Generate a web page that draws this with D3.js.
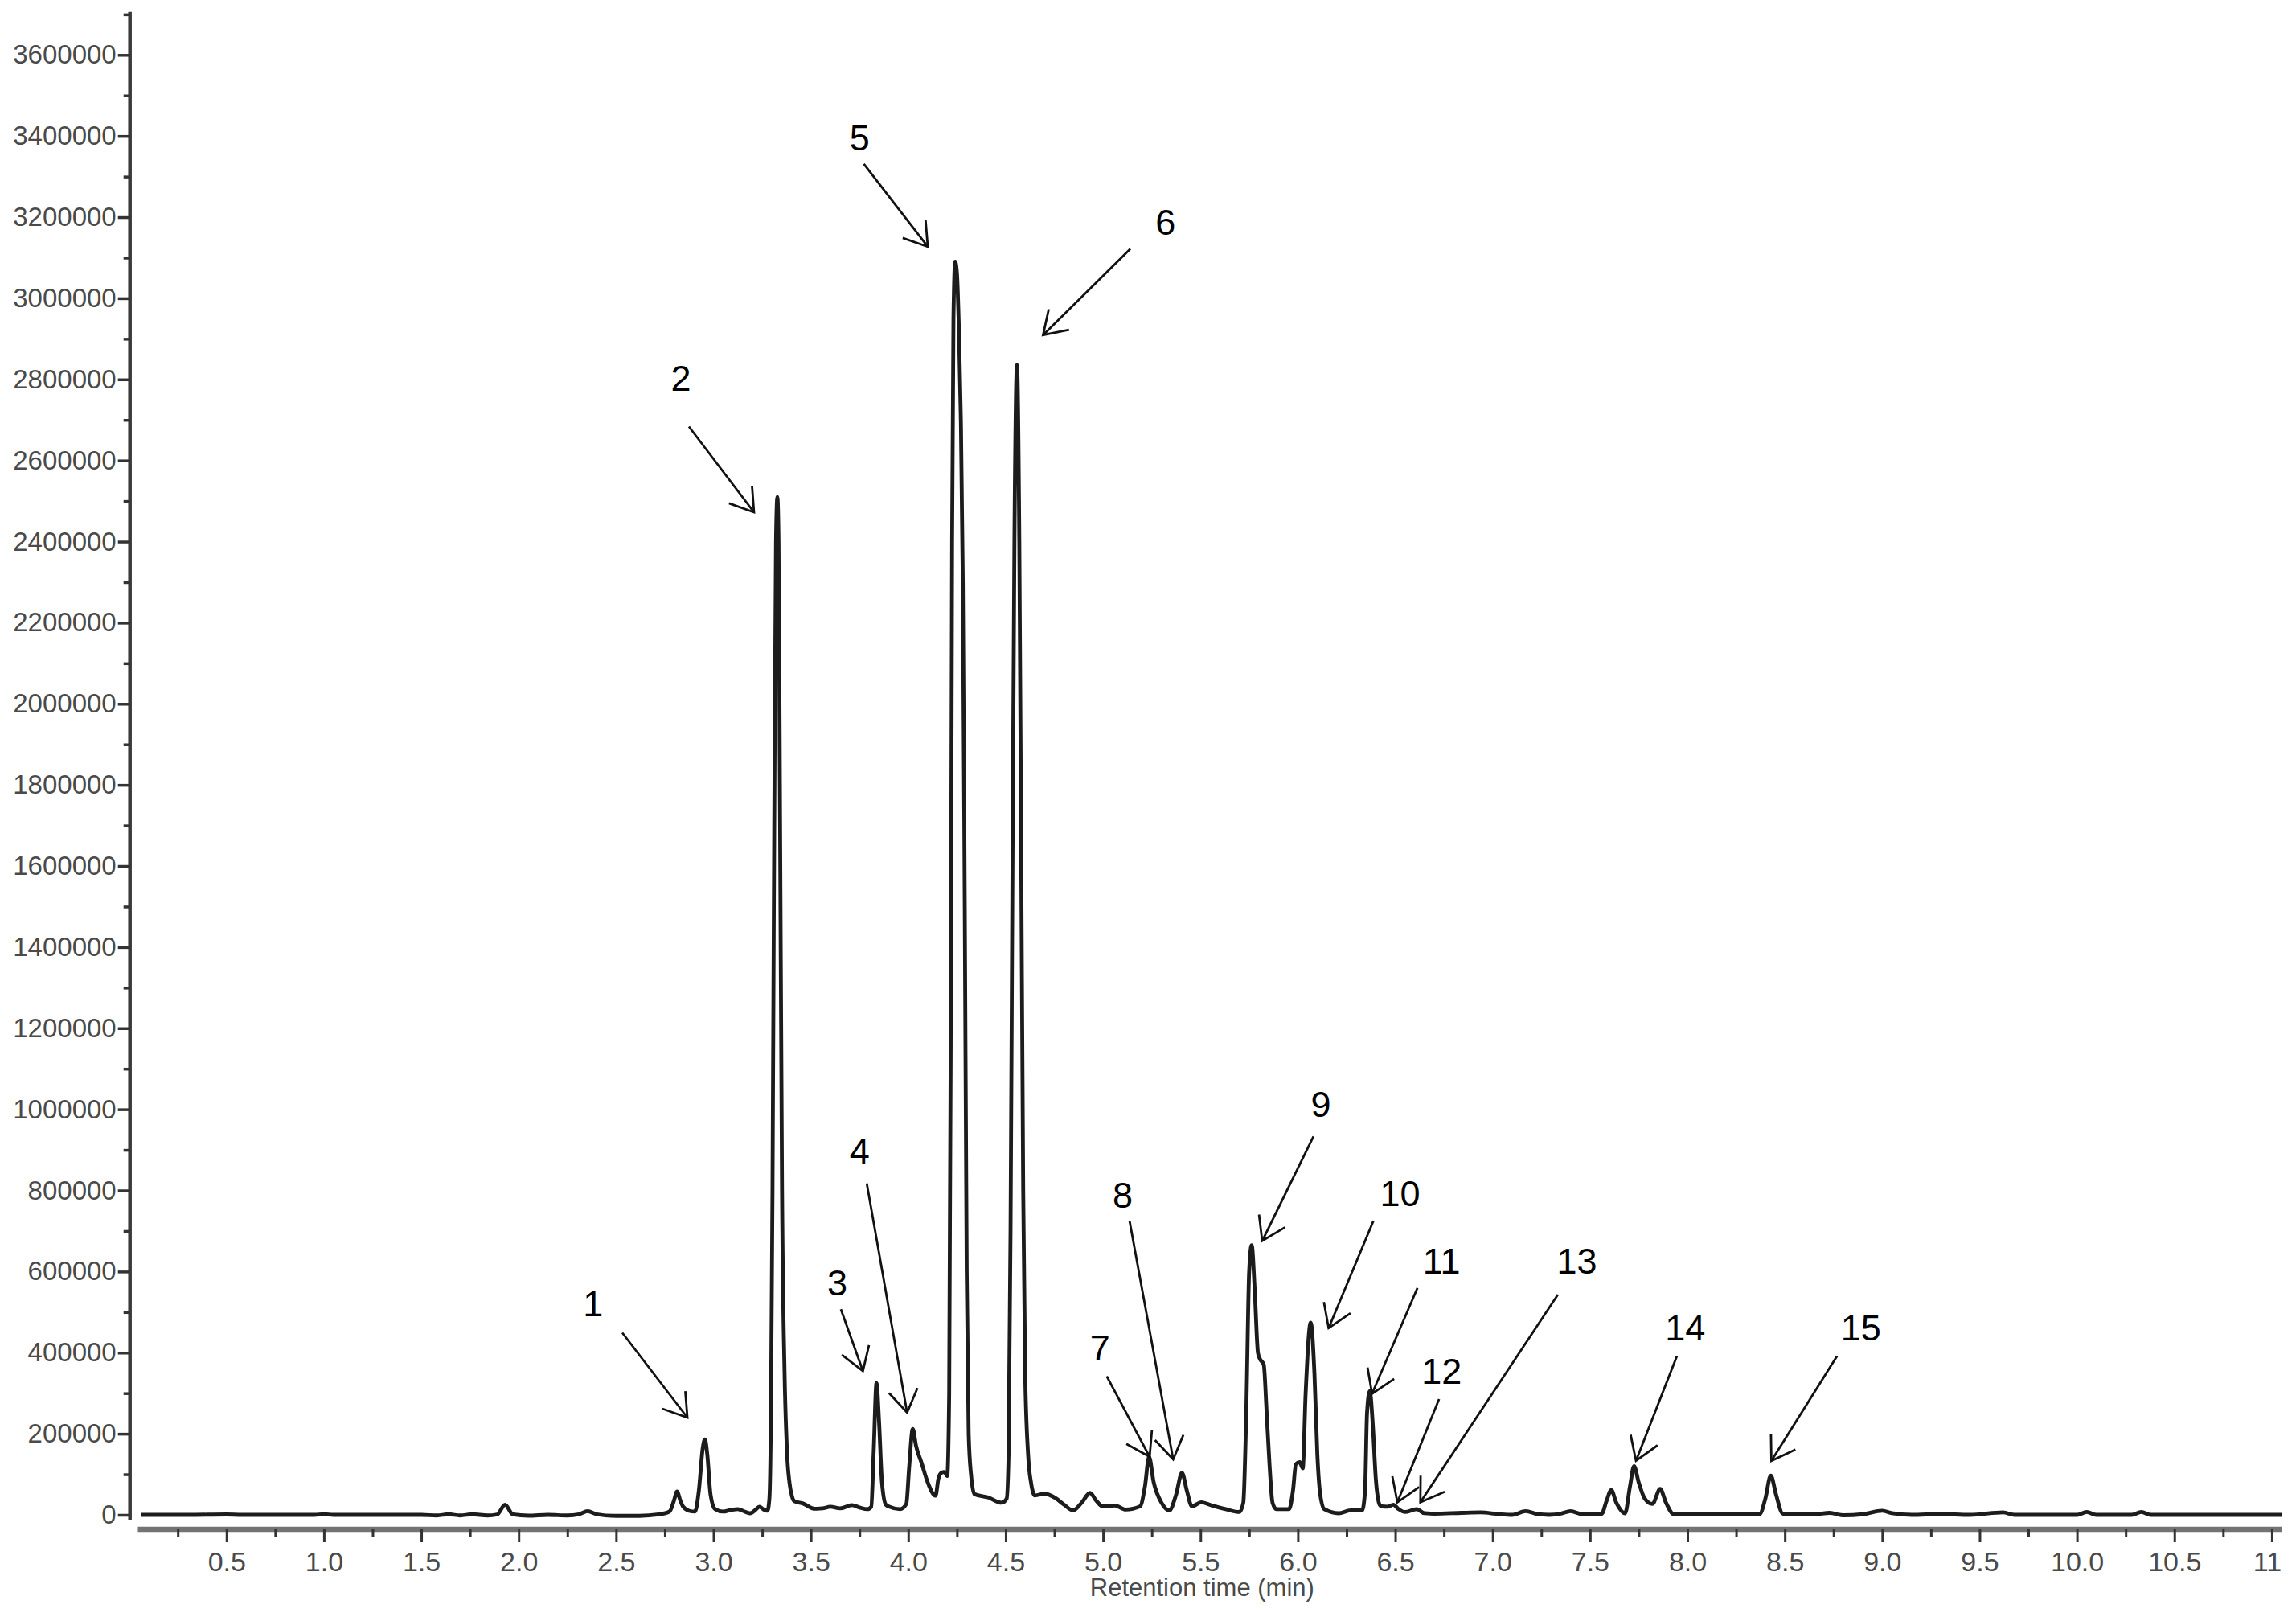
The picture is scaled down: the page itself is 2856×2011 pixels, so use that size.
<!DOCTYPE html>
<html><head><meta charset="utf-8">
<script src="https://cdn.jsdelivr.net/npm/d3@7"></script>
<style>html,body{margin:0;padding:0;background:#fff;} svg{display:block;}</style>
</head><body>
<svg id="chart" width="2856" height="2011"></svg>
<script>
// ---- Data ----
const retentionTime = [
 0.06,0.30,0.50,0.58,0.95,1.00,1.05,1.50,1.58,1.64,1.70,1.76,1.84,1.89,1.93,1.97,2.05,2.15,2.25,2.31,
 2.354,2.40,2.50,2.62,2.72,2.774,2.797,2.813,2.83,2.843,2.875,2.905,2.925,2.945,2.956,2.968,2.985,3.008,3.049,3.09,
 3.125,3.16,3.187,3.215,3.236,3.255,3.277,3.287,3.295,3.303,3.312,3.321,3.328,3.334,3.342,3.352,3.365,3.378,3.39,3.402,
 3.415,3.46,3.52,3.56,3.60,3.65,3.71,3.75,3.79,3.81,3.822,3.837,3.85,3.865,3.885,3.903,3.958,3.99,4.005,4.023,
 4.04,4.069,4.10,4.14,4.155,4.17,4.185,4.20,4.21,4.218,4.225,4.232,4.241,4.25,4.26,4.27,4.28,4.29,4.30,4.31,
 4.322,4.34,4.41,4.48,4.505,4.515,4.525,4.535,4.545,4.558,4.57,4.58,4.59,4.60,4.615,4.63,4.65,4.70,4.757,4.80,
 4.846,4.89,4.933,4.965,4.998,5.06,5.116,5.19,5.215,5.236,5.26,5.30,5.34,5.375,5.405,5.43,5.456,5.504,5.56,5.63,
 5.70,5.72,5.735,5.75,5.763,5.778,5.795,5.805,5.825,5.84,5.855,5.87,5.89,5.955,5.975,5.99,6.01,6.025,6.04,6.066,
 6.085,6.10,6.115,6.136,6.21,6.27,6.33,6.345,6.355,6.369,6.385,6.40,6.42,6.43,6.46,6.49,6.515,6.55,6.61,6.65,
 6.70,6.84,6.94,7.03,7.10,7.17,7.23,7.29,7.35,7.40,7.46,7.56,7.585,7.609,7.635,7.68,7.705,7.726,7.75,7.78,
 7.82,7.86,7.89,7.93,8.00,8.08,8.20,8.37,8.40,8.428,8.455,8.49,8.55,8.65,8.73,8.80,8.90,9.00,9.05,9.15,
 9.30,9.45,9.62,9.68,10.00,10.05,10.10,10.28,10.33,10.38,11.05
];
const intensity = [
 0,0,1000,0,0,1500,0,0,-1500,1500,-1500,1500,-1500,1000,25000,1000,-2000,0,-1500,1500,
 9000,1500,-2500,-2500,1000,8000,35000,57500,35000,21000,10000,8000,60000,165000,186000,150000,50000,14500,8000,12000,
 14000,8000,4000,12000,20000,14000,10000,40000,250000,800000,1700000,2400000,2510000,2400000,1700000,800000,350000,150000,80000,48000,
 34000,28000,15000,16000,20000,16000,24000,18000,14000,20000,150000,325000,230000,80000,25000,20000,14000,27000,120000,212000,
 170000,127000,80000,47500,90000,104000,106000,96000,300000,1200000,2400000,2950000,3090000,3060000,2920000,2700000,2300000,1500000,600000,200000,
 100000,51000,43000,30000,40000,150000,700000,1600000,2400000,2835000,2400000,1600000,800000,350000,150000,80000,48000,52000,41000,25000,
 11000,30000,54000,35000,21000,23000,13000,21000,70000,143000,80000,30000,11000,50000,104000,60000,21000,31000,23000,14000,
 7000,30000,250000,600000,665000,560000,400000,385000,370000,250000,120000,30000,14000,14000,60000,125000,130000,115000,300000,474000,
 350000,150000,50000,14000,4000,11000,11000,60000,250000,305000,220000,90000,25000,21000,20000,25000,15000,7000,14000,4000,
 3000,5000,6000,2000,0,9000,2000,0,3000,9000,2000,3000,35000,61000,30000,4000,70000,120000,80000,41000,
 27000,64000,30000,1500,2000,3000,1500,1500,40000,97000,50000,3000,2500,1000,5000,-1000,1500,10000,4000,0,
 2000,0,6000,0,0,7000,0,0,7000,0,0
];

// Axis ticks
const yMajorTicks = [0,200000,400000,600000,800000,1000000,1200000,1400000,1600000,1800000,2000000,2200000,2400000,2600000,2800000,3000000,3200000,3400000,3600000];
const yMinorTicks = [100000,300000,500000,700000,900000,1100000,1300000,1500000,1700000,1900000,2100000,2300000,2500000,2700000,2900000,3100000,3300000,3500000,3700000];
const xMajorTicks = [0.5,1.0,1.5,2.0,2.5,3.0,3.5,4.0,4.5,5.0,5.5,6.0,6.5,7.0,7.5,8.0,8.5,9.0,9.5,10.0,10.5,11.0];
const xMajorLabels = ["0.5","1.0","1.5","2.0","2.5","3.0","3.5","4.0","4.5","5.0","5.5","6.0","6.5","7.0","7.5","8.0","8.5","9.0","9.5","10.0","10.5","11"];
const xMinorTicks = [0.25,0.75,1.25,1.75,2.25,2.75,3.25,3.75,4.25,4.75,5.25,5.75,6.25,6.75,7.25,7.75,8.25,8.75,9.25,9.75,10.25,10.75];
const xTitle = "Retention time (min)";

// Peak annotations (data units: minutes, intensity)
const peakNumbers = ["1","2","3","4","5","6","7","8","9","10","11","12","13","14","15"];
const labelT   = [2.382,2.833,3.636,3.750,3.750,5.321,4.984,5.101,6.118,6.525,6.738,6.738,7.433,7.989,8.891];
const labelV   = [521400,2803500,573000,897000,3396000,3186400,411000,787700,1012500,791100,625900,354900,626100,460000,460000];
const arrowFromT = [2.532,2.874,3.654,3.787,3.772,5.140,5.019,5.136,6.080,6.388,6.614,6.725,7.335,7.946,8.768];
const arrowFromV = [449100,2683600,507000,817500,3331000,3121600,341600,725100,933000,725100,559700,285500,543300,391400,391400];
const arrowToT   = [2.866,3.208,3.767,3.994,4.100,4.692,5.239,5.360,5.817,6.158,6.381,6.511,6.629,7.736,8.431];
const arrowToV   = [239900,2472400,354900,252400,3127300,2909200,143300,136800,675500,460600,298800,31100,31100,133400,133400];

// ---- Drawing ----
const svg = d3.select("#chart");
svg.append("rect").attr("width",2856).attr("height",2011).attr("fill","#fff");

const x = d3.scaleLinear().domain([0, 11]).range([160.6, 160.6 + 11*242.3]);
const y = d3.scaleLinear().domain([0, 3600000]).range([1884, 68.3]);
const axisY = 1902;
const font = "'Liberation Sans', Arial, sans-serif";

// X axis line
svg.append("line")
  .attr("x1", x(0.045)).attr("x2", x(11.05))
  .attr("y1", axisY).attr("y2", axisY)
  .attr("stroke", "#737373").attr("stroke-width", 6.5);

// X minor ticks
const gxMinor = svg.append("g").attr("transform", `translate(0,${axisY})`)
  .call(d3.axisBottom(x).tickValues(xMinorTicks).tickSize(9).tickFormat(""));
gxMinor.select(".domain").remove();
gxMinor.selectAll(".tick line").attr("stroke", "#333").attr("stroke-width", 3);

// X major ticks
const gx = svg.append("g").attr("transform", `translate(0,${axisY})`)
  .call(d3.axisBottom(x).tickValues(xMajorTicks).tickSize(16).tickPadding(12)
        .tickFormat((d, i) => xMajorLabels[i]));
gx.select(".domain").remove();
gx.selectAll(".tick line").attr("stroke", "#333").attr("stroke-width", 3);
gx.selectAll(".tick text").attr("font-family", font).attr("font-size", 34).attr("fill", "#4a4a4a")
  .attr("dx", (d, i) => i === xMajorTicks.length - 1 ? -6 : 0);

// X title
svg.append("text")
  .attr("x", (x(0) + x(11.05)) / 2 - 4).attr("y", 1985)
  .attr("text-anchor", "middle")
  .attr("font-family", font).attr("font-size", 31).attr("fill", "#4a4a4a")
  .text(xTitle);

// Y axis line
const yAxisX = 161.7;
svg.append("line")
  .attr("x1", yAxisX).attr("x2", yAxisX)
  .attr("y1", y(3706000)).attr("y2", y(-12000))
  .attr("stroke", "#3a3a3a").attr("stroke-width", 4.5);

const gyMinor = svg.append("g").attr("transform", `translate(${yAxisX},0)`)
  .call(d3.axisLeft(y).tickValues(yMinorTicks).tickSize(8).tickFormat(""));
gyMinor.select(".domain").remove();
gyMinor.selectAll(".tick line").attr("stroke", "#333").attr("stroke-width", 3.5);

const gy = svg.append("g").attr("transform", `translate(${yAxisX},0)`)
  .call(d3.axisLeft(y).tickValues(yMajorTicks).tickSize(15).tickPadding(2).tickFormat(d3.format("d")));
gy.select(".domain").remove();
gy.selectAll(".tick line").attr("stroke", "#333").attr("stroke-width", 3.5);
gy.selectAll(".tick text").attr("font-family", font).attr("font-size", 33).attr("fill", "#4a4a4a");

// Chromatogram trace
const trace = retentionTime.map((t, i) => [t, intensity[i]]);
const line = d3.line().x(d => x(d[0])).y(d => y(d[1])).curve(d3.curveMonotoneX);
svg.append("path").datum(trace)
  .attr("d", line)
  .attr("fill", "none").attr("stroke", "#1c1c1c")
  .attr("stroke-width", 4.8).attr("stroke-linejoin", "round");

// Annotations
const ann = svg.append("g");
peakNumbers.forEach((lab, i) => {
  const x1 = x(arrowFromT[i]), y1 = y(arrowFromV[i]);
  const x2 = x(arrowToT[i]), y2 = y(arrowToV[i]);
  ann.append("line").attr("x1", x1).attr("y1", y1).attr("x2", x2).attr("y2", y2)
    .attr("stroke", "#111").attr("stroke-width", 2.8);
  const ang = Math.atan2(y1 - y2, x1 - x2);
  const L = 33, a = 33 * Math.PI / 180;
  const p = d3.path();
  p.moveTo(x2 + L * Math.cos(ang - a), y2 + L * Math.sin(ang - a));
  p.lineTo(x2, y2);
  p.lineTo(x2 + L * Math.cos(ang + a), y2 + L * Math.sin(ang + a));
  ann.append("path").attr("d", p.toString()).attr("fill", "none")
    .attr("stroke", "#111").attr("stroke-width", 2.8).attr("stroke-linejoin", "miter");
  ann.append("text").attr("x", x(labelT[i])).attr("y", y(labelV[i]))
    .attr("text-anchor", "middle").attr("dominant-baseline", "central")
    .attr("font-family", font).attr("font-size", 45).attr("fill", "#000")
    .text(lab);
});
</script>
</body></html>
